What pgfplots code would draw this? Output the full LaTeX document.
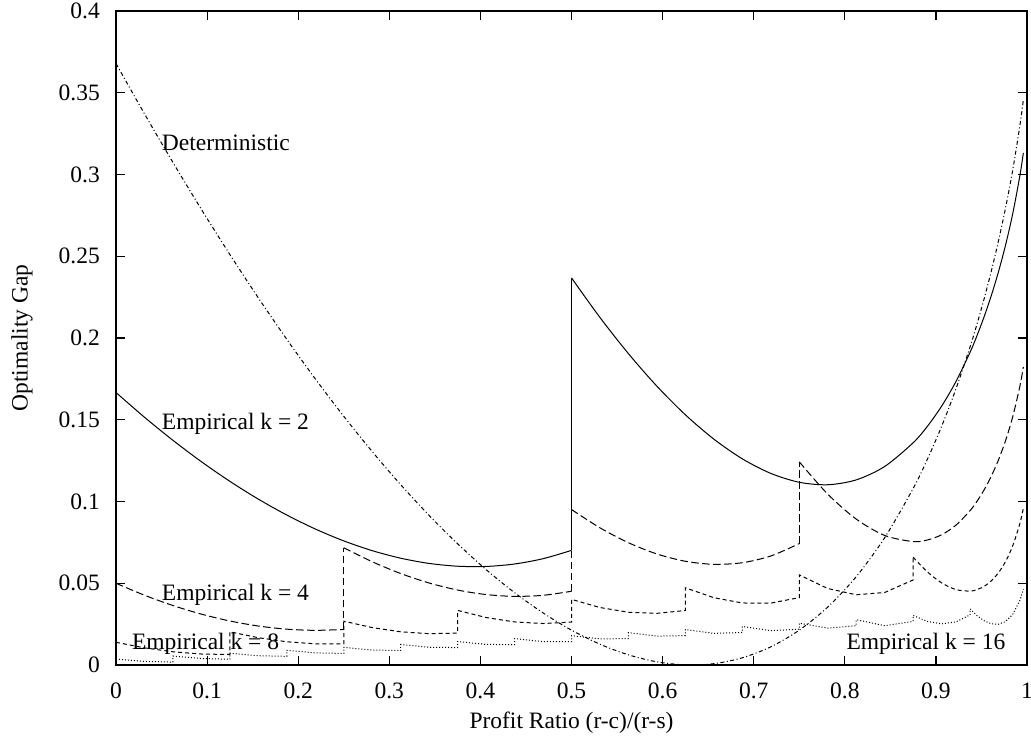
\documentclass[border=0pt]{standalone}
\usepackage{pgfplots}
\pgfplotsset{compat=1.18}
\usepackage{fontspec}
\setmainfont{Liberation Serif}
\begin{document}
\fontsize{11.75}{14}\selectfont
\begin{tikzpicture}
\begin{axis}[
  scale only axis, width=455.5pt, height=327pt,
  xmin=0, xmax=1, ymin=0, ymax=0.4,
  xtick={0,0.1,0.2,0.3,0.4,0.5,0.6,0.7,0.8,0.9,1},
  xticklabels={0,0.1,0.2,0.3,0.4,0.5,0.6,0.7,0.8,0.9,1},
  ytick={0,0.05,0.1,0.15,0.2,0.25,0.3,0.35,0.4},
  yticklabels={0,0.05,0.1,0.15,0.2,0.25,0.3,0.35,0.4},
  tick align=inside, major tick length=4.5pt,
  axis line style={line width=0.6pt},
  every tick/.style={line width=0.6pt, black},
  xticklabel style={yshift=-5pt}, yticklabel style={xshift=-4pt},
  xlabel={Profit Ratio (r-c)/(r-s)}, ylabel={Optimality Gap},
  xlabel style={at={(axis description cs:0.5,-0.0887)}, anchor=center},
  ylabel style={at={(axis description cs:-0.1032,0.5)}, anchor=center},
  every axis plot/.append style={black, line width=0.5pt},
]
% ---------------- Empirical k = 2 (solid) ----------------
\addplot[solid, smooth, tension=0.5] coordinates {
(0,0.166667)(0.03125,0.151535)(0.0625,0.137412)(0.09375,0.124331)(0.125,0.112327)(0.15625,0.101440)(0.1875,0.091710)(0.21875,0.083183)(0.25,0.075905)(0.28125,0.069931)(0.3125,0.065315)(0.34375,0.062120)(0.375,0.060414)(0.40625,0.060272)(0.4375,0.061775)(0.46875,0.065014)(0.5,0.070093)};
\addplot[solid] coordinates {(0.5,0.070093)(0.5,0.236759)};
\addplot[solid, smooth, tension=0.5] coordinates {
(0.5,0.236759)(0.53125,0.212543)(0.5625,0.190411)(0.59375,0.170513)(0.625,0.153022)(0.65625,0.138138)(0.6875,0.126098)(0.71875,0.117189)(0.75,0.111759)(0.78125,0.110246)(0.8125,0.113212)(0.84375,0.121411)(0.875,0.135903)(0.890625,0.145977)(0.90625,0.158290)(0.921875,0.173221)(0.9375,0.191296)(0.9453125,0.201749)(0.953125,0.213321)(0.9609375,0.226200)(0.96875,0.240654)(0.9765625,0.257081)(0.984375,0.276163)(0.9921875,0.299333)(0.996,0.313247)};
% ---------------- Empirical k = 4 (dashed) ----------------
\addplot[dash pattern=on 3.75pt off 1.75pt, smooth, tension=0.5] coordinates {
(0,0.05)(0.03125,0.042680)(0.0625,0.036370)(0.09375,0.031101)(0.125,0.026910)(0.15625,0.023835)(0.1875,0.021918)(0.21875,0.021203)(0.25,0.021738)};
\addplot[dash pattern=on 3.75pt off 1.75pt] coordinates {(0.25,0.021738)(0.25,0.071738)};
\addplot[dash pattern=on 3.75pt off 1.75pt, smooth, tension=0.5] coordinates {
(0.25,0.071738)(0.28125,0.063160)(0.3125,0.055940)(0.34375,0.050140)(0.375,0.045830)(0.40625,0.043084)(0.4375,0.041983)(0.46875,0.042618)(0.5,0.045093)};
\addplot[dash pattern=on 3.75pt off 1.75pt] coordinates {(0.5,0.045093)(0.5,0.095093)};
\addplot[dash pattern=on 3.75pt off 1.75pt, smooth, tension=0.5] coordinates {
(0.5,0.095093)(0.53125,0.083898)(0.5625,0.074786)(0.59375,0.067909)(0.625,0.063439)(0.65625,0.061576)(0.6875,0.062557)(0.71875,0.066669)(0.75,0.074259)};
\addplot[dash pattern=on 3.75pt off 1.75pt] coordinates {(0.75,0.074259)(0.75,0.124259)};
\addplot[dash pattern=on 3.75pt off 1.75pt, smooth, tension=0.5] coordinates {
(0.75,0.124259)(0.78125,0.104517)(0.8125,0.089254)(0.84375,0.079224)(0.875,0.075487)(0.890625,0.076446)(0.90625,0.079645)(0.921875,0.085460)(0.9375,0.094421)(0.9453125,0.100317)(0.953125,0.107331)(0.9609375,0.115654)(0.96875,0.125550)(0.9765625,0.137420)(0.984375,0.151944)(0.9921875,0.170558)(0.996,0.182247)};
% ---------------- Empirical k = 8 (short dashes) ----------------
\addplot[dash pattern=on 2pt off 1.5pt] coordinates {
(0,0.013889)(0.03125,0.010476)(0.0625,0.008071)(0.09375,0.006709)(0.125,0.006424)
(0.125,0.020313)(0.15625,0.016680)(0.1875,0.014205)(0.21875,0.012932)(0.25,0.012909)
(0.25,0.026798)(0.28125,0.022870)(0.3125,0.020300)(0.34375,0.019151)(0.375,0.019491)
(0.375,0.033380)(0.40625,0.029037)(0.4375,0.026334)(0.46875,0.025369)(0.5,0.026244)
(0.5,0.040132)(0.53125,0.035150)(0.5625,0.032251)(0.59375,0.031587)(0.625,0.033329)
(0.625,0.047218)(0.65625,0.041151)(0.6875,0.037928)(0.71875,0.037836)(0.75,0.041223)
(0.75,0.055112)(0.78125,0.046791)(0.8125,0.042949)(0.84375,0.044340)(0.875,0.052024)
(0.875,0.065913)};
\addplot[dash pattern=on 2pt off 1.5pt, smooth, tension=0.5] coordinates {
(0.875,0.065913)(0.890625,0.056958)(0.90625,0.050242)(0.921875,0.046144)(0.9375,0.045190)(0.9453125,0.046128)(0.953125,0.048186)(0.9609375,0.051551)(0.96875,0.056490)(0.9765625,0.063402)(0.984375,0.072970)(0.9921875,0.086626)(0.996,0.095896)};
% ---------------- Empirical k = 16 (dotted) ----------------
\addplot[dash pattern=on 0.5pt off 1pt] coordinates {
(0,0.003676)(0.03125,0.002216)(0.0625,0.001765)
(0.0625,0.005442)(0.09375,0.003949)(0.125,0.003534)
(0.125,0.007210)(0.15625,0.005679)(0.1875,0.005305)
(0.1875,0.008982)(0.21875,0.007408)(0.25,0.007082)
(0.25,0.010759)(0.28125,0.009133)(0.3125,0.008866)
(0.3125,0.012543)(0.34375,0.010855)(0.375,0.010657)
(0.375,0.014333)(0.40625,0.012573)(0.4375,0.012459)
(0.4375,0.016135)(0.46875,0.014285)(0.5,0.014274)
(0.5,0.017950)(0.53125,0.015988)(0.5625,0.016110)
(0.5625,0.019787)(0.59375,0.017679)(0.625,0.017977)
(0.625,0.021654)(0.65625,0.019351)(0.6875,0.019892)
(0.6875,0.023569)(0.71875,0.020992)(0.75,0.021893)
(0.75,0.025569)(0.78125,0.022575)(0.8125,0.024060)
(0.8125,0.027737)(0.84375,0.024038)(0.875,0.026632)
(0.875,0.030308)(0.890625,0.026620)(0.90625,0.025172)(0.921875,0.026341)(0.9375,0.030656)
(0.9375,0.034333)(0.9453125,0.030092)(0.953125,0.026971)(0.9609375,0.025157)(0.96875,0.024918)(0.9765625,0.026651)(0.984375,0.031040)(0.9921875,0.039517)(0.996,0.046261)};
% ---------------- Deterministic (dash-dot) ----------------
\addplot[dash pattern=on 2pt off 1.25pt on 0.5pt off 1.25pt, smooth, tension=0.5] coordinates {
(0,0.367879)(0.03125,0.337122)(0.0625,0.307374)(0.09375,0.278668)(0.125,0.251039)(0.15625,0.224527)(0.1875,0.199172)(0.21875,0.175020)(0.25,0.152117)(0.28125,0.130518)(0.3125,0.110277)(0.34375,0.091457)(0.375,0.074126)(0.40625,0.058359)(0.4375,0.044237)(0.46875,0.031851)(0.5,0.021305)(0.53125,0.012714)(0.5625,0.006207)(0.59375,0.001934)(0.625,0.000068)(0.65625,0.000809)(0.6875,0.004394)(0.71875,0.011110)(0.75,0.021305)(0.78125,0.035417)(0.8125,0.054008)(0.84375,0.077832)(0.875,0.107949)(0.890625,0.125835)(0.90625,0.145961)(0.921875,0.168704)(0.9375,0.194592)(0.9453125,0.208951)(0.953125,0.224429)(0.9609375,0.241215)(0.96875,0.259575)(0.9765625,0.279908)(0.984375,0.302896)(0.9921875,0.329973)(0.996,0.345793)};
\node[anchor=base west, inner sep=0pt] at (axis cs:0.05,0.3146) {Deterministic};
\node[anchor=base west, inner sep=0pt] at (axis cs:0.05,0.1442) {Empirical k = 2};
\node[anchor=base west, inner sep=0pt] at (axis cs:0.05,0.0393) {Empirical k = 4};
\node[anchor=base west, inner sep=0pt] at (axis cs:0.0172,0.0092) {Empirical k = 8};
\node[anchor=base east, inner sep=0pt] at (axis cs:0.9766,0.0096) {Empirical k = 16};
\end{axis}
\pgfresetboundingbox
\path (-58pt,-38.5pt) rectangle (457.5pt,332.5pt);
\end{tikzpicture}
\end{document}
